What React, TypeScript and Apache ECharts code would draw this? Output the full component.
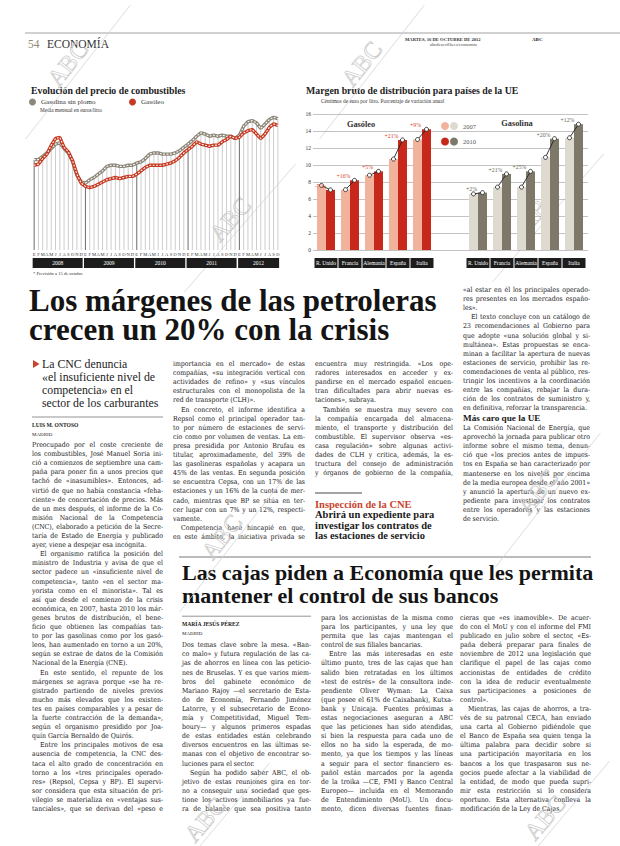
import React, { useEffect, useRef } from 'react';
import * as echarts from 'echarts';

const W = 620;
const H = 846;
const SERIF = '"Liberation Serif", "Times New Roman", serif';
const BODY = '"DejaVu Serif Condensed", "DejaVu Serif", serif';

// ---------- Line chart data (monthly, Jan 2008 - Oct 2012, euros/litro)
const months = ['E', 'F', 'M', 'A', 'M', 'J', 'J', 'A', 'S', 'O', 'N', 'D'];
const years = ['2008', '2009', '2010', '2011', '2012'];
const gasolina = [
  1.11, 1.11, 1.14, 1.17, 1.21, 1.25, 1.26, 1.21, 1.17, 1.09, 0.97, 0.91,
  0.9, 0.93, 0.95, 0.98, 1.01, 1.05, 1.06, 1.06, 1.05, 1.05, 1.06, 1.06,
  1.08, 1.09, 1.12, 1.16, 1.17, 1.17, 1.16, 1.16, 1.16, 1.17, 1.19, 1.22,
  1.25, 1.28, 1.32, 1.35, 1.34, 1.32, 1.33, 1.32, 1.33, 1.32, 1.32, 1.3,
  1.33, 1.41, 1.45, 1.46, 1.44, 1.39, 1.43, 1.47, 1.49, 1.477,
];
const gasoleo = [
  1.06, 1.07, 1.12, 1.16, 1.24, 1.3, 1.31, 1.22, 1.18, 1.1, 0.98, 0.9,
  0.87, 0.86, 0.87, 0.89, 0.91, 0.93, 0.94, 0.95, 0.94, 0.95, 0.96, 0.96,
  0.98, 1.01, 1.04, 1.06, 1.06, 1.06, 1.06, 1.07, 1.08, 1.1, 1.13, 1.17,
  1.2, 1.23, 1.27, 1.25, 1.24, 1.23, 1.24, 1.24, 1.27, 1.29, 1.32, 1.3,
  1.31, 1.35, 1.37, 1.38, 1.34, 1.3, 1.34, 1.4, 1.43, 1.418,
];
// labelled points: [monthIndex, position, dx, dy]
const gasolinaMarks: any[] = [[6, 'bottom', 2, 1], [12, 'top', 4, -1], [24, 'top', 6, -1], [39, 'top', -4, 0], [57, 'top', 5, 0]];
const gasoleoMarks: any[] = [[6, 'top', 7, 1], [13, 'bottom', 1, 1], [39, 'bottom', 1, 0], [57, 'bottom', 6, 0]];

// ---------- Bar chart data (céntimos de euro por litro)
const paises = ['R. Unido', 'Francia', 'Alemania', 'España', 'Italia'];
const gasoleo2007 = [7.6, 7.1, 8.8, 10.7, 13.0];
const gasoleo2010 = [7.07, 8.2, 9.25, 12.95, 14.2];
const gasoleoVar = ['-7%', '+16%', '+5%', '+21%', '+9%'];
const gasolina2007 = [6.6, 7.4, 7.4, 10.9, 13.2];
const gasolina2010 = [6.75, 8.95, 9.25, 13.1, 14.8];
const gasolinaVar = ['+2%', '+21%', '+25%', '+20%', '+12%'];

// ---------- Texts
const sidebar = ['La CNC denuncia', '«el insuficiente nivel de', 'competencia» en el', 'sector de los carburantes'];
const col1 = [
  'Preocupado por el coste creciente de',
  'los combustibles, José Manuel Soria ini-',
  'ció a comienzos de septiembre una cam-',
  'paña para poner fin a unos precios que',
  'tachó de «inasumibles». Entonces, ad-',
  'virtió de que no había constancia «feha-',
  'ciente» de concertación de precios. Más',
  'de un mes después, el informe de la Co-',
  'misión Nacional de la Competencia',
  '(CNC), elaborado a petición de la Secre-',
  'taría de Estado de Energía y publicado',
  'ayer, viene a despejar esa incógnita.',
  '  El organismo ratifica la posición del',
  'ministro de Industria y avisa de que el',
  'sector padece un «insuficiente nivel de',
  'competencia», tanto «en el sector ma-',
  'yorista como en el minorista». Tal es',
  'así que desde el comienzo de la crisis',
  'económica, en 2007, hasta 2010 los már-',
  'genes brutos de distribución, el bene-',
  'ficio que obtienen las compañías tan-',
  'to por las gasolinas como por los gasó-',
  'leos, han aumentado en torno a un 20%,',
  'según se extrae de datos de la Comisión',
  'Nacional de la Energía (CNE).',
  '  En este sentido, el repunte de los',
  'márgenes se agrava porque «se ha re-',
  'gistrado partiendo de niveles previos',
  'mucho más elevados que los existen-',
  'tes en países comparables y a pesar de',
  'la fuerte contracción de la demanda»,',
  'según el organismo presidido por Joa-',
  'quín García Bernaldo de Quirós.',
  '  Entre los principales motivos de esa',
  'ausencia de competencia, la CNC des-',
  'taca el alto grado de concentración en',
  'torno a los «tres principales operado-',
  'res» (Repsol, Cepsa y BP). El supervi-',
  'sor considera que esta situación de pri-',
  'vilegio se materializa en «ventajas sus-',
  'tanciales», que se derivan del «peso e',
];
const col2 = [
  'importancia en el mercado» de estas',
  'compañías, «su integración vertical con',
  'actividades de refino» y «sus vínculos',
  'estructurales con el monopolista de la',
  'red de transporte (CLH)».',
  '  En concreto, el informe identifica a',
  'Repsol como el principal operador tan-',
  'to por número de estaciones de servi-',
  'cio como por volumen de ventas. La em-',
  'presa presidida por Antonio Brufau es',
  'titular, aproximadamente, del 39% de',
  'las gasolineras españolas y acapara un',
  '45% de las ventas. En segunda posición',
  'se encuentra Cepsa, con un 17% de las',
  'estaciones y un 16% de la cuota de mer-',
  'cado, mientras que BP se sitúa en ter-',
  'cer lugar con un 7% y un 12%, respecti-',
  'vamente.',
  '  Competencia hace hincapié en que,',
  'en este ámbito, la iniciativa privada se',
];
const col3 = [
  'encuentra muy restringida. «Los ope-',
  'radores interesados en acceder y ex-',
  'pandirse en el mercado español encuen-',
  'tran dificultades para abrir nuevas es-',
  'taciones», subraya.',
  '  También se muestra muy severo con',
  'la compañía encargada del almacena-',
  'miento, el transporte y distribución del',
  'combustible. El supervisor observa «es-',
  'casa regulación» sobre algunas activi-',
  'dades de CLH y critica, además, la es-',
  'tructura del consejo de administración',
  'y órganos de gobierno de la compañía,',
];
const col3Head = ['Abrirá un expediente para', 'investigar los contratos de', 'las estaciones de servicio'];
const col4a = [
  '«al estar en él los principales operado-',
  'res presentes en los mercados españo-',
  'les».',
  '  El texto concluye con un catálogo de',
  '23 recomendaciones al Gobierno para',
  'que adopte «una solución global y si-',
  'multánea». Estas propuestas se enca-',
  'minan a facilitar la apertura de nuevas',
  'estaciones de servicio, prohibir las re-',
  'comendaciones de venta al público, res-',
  'tringir los incentivos a la coordinación',
  'entre las compañías, rebajar la dura-',
  'ción de los contratos de suministro y,',
  'en definitiva, reforzar la transparencia.',
];
const col4b = [
  'La Comisión Nacional de Energía, que',
  'aprovechó la jornada para publicar otro',
  'informe sobre el mismo tema, denun-',
  'ció que «los precios antes de impues-',
  'tos en España se han caracterizado por',
  'mantenerse en los niveles por encima',
  'de la media europea desde el año 2001»',
  'y anunció la apertura de un nuevo ex-',
  'pediente para investigar los contratos',
  'entre los operadores y las estaciones',
  'de servicio.',
];
const colA = [
  'Dos temas clave sobre la mesa. «Ban-',
  'co malo» y futura regulación de las ca-',
  'jas de ahorros en línea con las peticio-',
  'nes de Bruselas. Y es que varios miem-',
  'bros del gabinete económico de',
  'Mariano Rajoy —el secretario de Esta-',
  'do de Economía, Fernando Jiménez',
  'Latorre, y el subsecretario de Econo-',
  'mía y Competitividad, Miguel Tem-',
  'boury— y algunos primeros espadas',
  'de estas entidades están celebrando',
  'diversos encuentros en las últimas se-',
  'manas con el objetivo de encontrar so-',
  'luciones para el sector.',
  '  Según ha podido saber ABC, el ob-',
  'jetivo de estas reuniones gira en tor-',
  'no a conseguir una sociedad que ges-',
  'tione los activos inmobiliarios ya fue-',
  'ra de balance que sea positiva tanto',
];
const colB = [
  'para los accionistas de la misma como',
  'para los participantes, y una ley que',
  'permita que las cajas mantengan el',
  'control de sus filiales bancarias.',
  '  Entre las más interesadas en este',
  'último punto, tres de las cajas que han',
  'salido bien retratadas en los últimos',
  '«test de estrés» de la consultora inde-',
  'pendiente Oliver Wyman: La Caixa',
  '(que posee el 61% de Caixabank), Kutxa-',
  'bank y Unicaja. Fuentes próximas a',
  'estas negociaciones aseguran a ABC',
  'que las peticiones han sido atendidas,',
  'si bien la respuesta para cada uno de',
  'ellos no ha sido la esperada, de mo-',
  'mento, ya que los tiempos y las líneas',
  'a seguir para el sector financiero es-',
  'pañol están marcados por la agenda',
  'de la troika —CE, FMI y Banco Central',
  'Europeo— incluida en el Memorando',
  'de Entendimiento (MoU). Un docu-',
  'mento, dicen diversas fuentes finan-',
];
const colC = [
  'cieras que «es inamovible». De acuer-',
  'do con el MoU y con el informe del FMI',
  'publicado en julio sobre el sector, «Es-',
  'paña deberá preparar para finales de',
  'noviembre de 2012 una legislación que',
  'clarifique el papel de las cajas como',
  'accionistas de entidades de crédito',
  'con la idea de reducir eventualmente',
  'sus participaciones a posiciones de',
  'control».',
  '  Mientras, las cajas de ahorros, a tra-',
  'vés de su patronal CECA, han enviado',
  'una carta al Gobierno pidiéndole que',
  'el Banco de España sea quien tenga la',
  'última palabra para decidir sobre si',
  'una participación mayoritaria en los',
  'bancos a los que traspasaron sus ne-',
  'gocios puede afectar a la viabilidad de',
  'la entidad, de modo que pueda supri-',
  'mir esta restricción si lo considera',
  'oportuno. Esta alternativa conlleva la',
  'modificación de la Ley de Cajas.',
];

// ---------- helpers
let _ctx: any = null;
function measure(text: string, size: number, family = BODY, weight = 'normal') {
  if (!_ctx) _ctx = document.createElement('canvas').getContext('2d');
  _ctx.font = `${weight} ${size}px ${family}`;
  return _ctx.measureText(text).width;
}

function txt(x: number, y: number, text: string, o: any = {}) {
  const align = o.align || 'left';
  const va = o.va || 'middle';
  return {
    type: 'text',
    silent: true,
    x,
    y,
    style: {
      text,
      fontSize: o.size || 8,
      fontFamily: o.family || SERIF,
      fontWeight: o.weight || 'normal',
      fill: o.color || '#1c1c1c',
      align,
      verticalAlign: va,
      textAlign: align,
      textVerticalAlign: va,
      ...(o.extra || {}),
    },
  };
}

function hline(x1: number, x2: number, y: number, color = '#555', w = 0.8) {
  return { type: 'line', silent: true, shape: { x1, y1: y, x2, y2: y }, style: { stroke: color, lineWidth: w } };
}

const INDENT = 8;
const LH = 9.1;

function neededSize(lines: string[], width: number, base: number) {
  let max = 0;
  lines.forEach((l) => {
    const ind = l.startsWith('  ') ? INDENT : 0;
    max = Math.max(max, measure(l.trim(), base) + ind);
  });
  return max > width ? (base * width) / max : base;
}

function bodyText(x: number, w: number, y0: number, lh: number, lines: string[], size: number, out: any[]) {
  const space = measure(' ', size);
  lines.forEach((raw, li) => {
    const indent = raw.startsWith('  ');
    const text = raw.trim();
    const y = y0 + li * lh;
    const x0 = x + (indent ? INDENT : 0);
    const avail = x + w - x0;
    const next = lines[li + 1];
    const justify = next !== undefined ? !next.startsWith('  ') : !/\.$/.test(text);
    const words = text.split(/\s+/);
    const opt = { size, family: BODY, color: '#161616' };
    if (!justify || words.length < 2) {
      out.push(txt(x0, y, text, opt));
      return;
    }
    const widths = words.map((wd) => measure(wd, size));
    const total = widths.reduce((a, b) => a + b, 0);
    const gap = (avail - total) / (words.length - 1);
    if (gap < space * 0.2 || gap > space * 6) {
      out.push(txt(x0, y, text, opt));
      return;
    }
    let cx = x0;
    words.forEach((wd, k) => {
      out.push(txt(cx, y, wd, opt));
      cx += widths[k] + gap;
    });
  });
}

function watermark(x: number, y: number, deg: number) {
  return {
    type: 'group',
    silent: true,
    x,
    y,
    rotation: (deg * Math.PI) / 180,
    children: [
      { type: 'line', shape: { x1: -85, y1: 0, x2: 85, y2: 0 }, style: { stroke: '#d2d2d2', lineWidth: 0.7 } },
      {
        type: 'text',
        style: {
          text: 'ABC', x: 0, y: -1, fontSize: 24, fontFamily: SERIF, fill: 'rgba(255,255,255,0)',
          stroke: '#c9c9c9', lineWidth: 0.7, align: 'center', verticalAlign: 'bottom', textAlign: 'center', textVerticalAlign: 'bottom',
        },
      },
    ],
  };
}

function fmtVal(v: number, last: boolean) {
  return (last ? v.toFixed(3) + '*' : v.toFixed(2)).replace('.', ',');
}

function lineData(values: number[], marks: any[]) {
  return values.map((v, i) => {
    const m = marks.find((s) => s[0] === i);
    const item: any = { value: [i, v] };
    if (m) {
      item.label = {
        show: true, position: m[1], offset: [m[2], m[3]], distance: 3, fontSize: 6,
        color: '#2a2a2a', fontFamily: SERIF, formatter: fmtVal(v, i === values.length - 1),
      };
    }
    return item;
  });
}

function connector(name: string, axisIdx: number, v07: number[], v10: number[], labels: string[], color: string) {
  return {
    type: 'custom',
    name,
    xAxisIndex: axisIdx,
    yAxisIndex: axisIdx,
    z: 10,
    silent: true,
    data: v07.map((v, i) => [i, v, v10[i]]),
    renderItem: (params: any, api: any) => {
      const i = api.value(0);
      const a = api.coord([i, api.value(1)]);
      const b = api.coord([i, api.value(2)]);
      const off = 4.5;
      const x1 = a[0] - off, y1 = a[1], x2 = b[0] + off, y2 = b[1];
      const cs = { fill: '#fff', stroke: '#222', lineWidth: 0.9 };
      return {
        type: 'group',
        children: [
          { type: 'line', shape: { x1, y1, x2, y2 }, style: { stroke: '#222', lineWidth: 0.9 } },
          { type: 'circle', shape: { cx: x1, cy: y1, r: 2 }, style: cs },
          { type: 'circle', shape: { cx: x2, cy: y2, r: 2 }, style: cs },
          {
            type: 'text',
            style: {
              text: labels[params.dataIndex], x: x2 - 11, y: y2 - 4, fontSize: 5.8, fontFamily: SERIF,
              fill: color, align: 'center', verticalAlign: 'middle', textAlign: 'center', textVerticalAlign: 'middle',
            },
          },
        ],
      };
    },
  };
}

function buildOption() {
  const els: any[] = [];
  // header
  els.push(hline(25, 620, 33, '#8a8a8a', 0.8));
  els.push(txt(28, 44, '54', { size: 11.5, color: '#8e8a7a' }));
  els.push(txt(47, 44, 'ECONOMÍA', { size: 11.5, color: '#333' }));
  els.push(txt(405, 39, 'MARTES, 16 DE OCTUBRE DE 2012', { size: 4.6, color: '#333', weight: 'bold' }));
  els.push(txt(532, 39, 'ABC', { size: 5, color: '#222', weight: 'bold' }));
  els.push(txt(430, 44, 'abcdesevilla.es/economia', { size: 4.6, color: '#444' }));

  // line chart texts
  els.push(txt(31, 90, 'Evolución del precio de combustibles', { size: 9.8, weight: 'bold', color: '#222' }));
  els.push(txt(40, 110, 'Media mensual en euros/litro', { size: 5.3, color: '#333' }));
  els.push(txt(33, 273, '* Previsión a 15 de octubre', { size: 4.6, color: '#333' }));

  // bar chart texts
  els.push(txt(306, 90, 'Margen bruto de distribución para países de la UE', { size: 9.8, weight: 'bold', color: '#222' }));
  els.push(txt(321, 101, 'Céntimos de euro por litro. Porcentaje de variación anual', { size: 5.4, color: '#333' }));
  els.push(txt(361, 124, 'Gasóleo', { size: 8.3, weight: 'bold', align: 'center', color: '#333' }));
  els.push(txt(517, 123, 'Gasolina', { size: 8.3, weight: 'bold', align: 'center', color: '#333' }));

  // main headline (one text block, two lines)
  els.push(txt(29, 286, 'Los márgenes de las petroleras\ncrecen un 20% con la crisis', {
    size: 31, weight: 'bold', color: '#141414', va: 'top', extra: { lineHeight: 29 },
  }));

  // sidebar
  els.push({ type: 'polygon', silent: true, shape: { points: [[33, 360], [39.5, 364], [33, 368]] }, style: { fill: '#c8442c' } });
  els.push(txt(42, 357.5, sidebar.join('\n'), { size: 11.8, color: '#222', va: 'top', extra: { lineHeight: 13 } }));
  els.push(hline(32, 163, 417, '#666', 0.7));
  els.push(txt(32, 425, 'LUIS M. ONTOSO', { size: 5.6, weight: 'bold' }));
  els.push(txt(32, 434, 'MADRID', { size: 5 }));

  // columns geometry (shared baseline grid)
  const bottom = 445 + (col1.length - 1) * LH;
  const cols = [
    { x: 32, w: 131, y: 445, lines: col1 },
    { x: 173, w: 132, y: 364, lines: col2 },
    { x: 315, w: 138, y: 364, lines: col3 },
    { x: 463, w: 127, y: 290, lines: col4a },
    { x: 463, w: 127, y: 428, lines: col4b },
    { x: 182, w: 129, y: bottom - (colA.length - 1) * LH, lines: colA },
    { x: 321, w: 132, y: bottom - (colB.length - 1) * LH, lines: colB },
    { x: 460, w: 131, y: bottom - (colC.length - 1) * LH, lines: colC },
  ];
  let size = 8.4;
  cols.forEach((c) => { size = Math.min(size, neededSize(c.lines, c.w, 8.4)); });
  cols.forEach((c) => bodyText(c.x, c.w, c.y, LH, c.lines, size, els));

  // col 3 inset
  els.push(hline(315, 362, 493, '#333', 0.9));
  els.push(txt(315, 504, 'Inspección de la CNE', { size: 10.5, weight: 'bold', color: '#c8442c' }));
  els.push(txt(315, 509.75, col3Head.join('\n'), { size: 10.5, weight: 'bold', color: '#1a1a1a', va: 'top', extra: { lineHeight: 10.2 } }));

  // col 4 subhead
  els.push(txt(463, 417.5, 'Más caro que la UE', { size: 9.2, weight: 'bold', color: '#1a1a1a' }));

  // lower story
  els.push(hline(179, 591, 557, '#555', 0.8));
  els.push(txt(182, 561, 'Las cajas piden a Economía que les permita\nmantener el control de sus bancos', {
    size: 22, weight: 'bold', align: 'left', color: '#141414', va: 'top', extra: { lineHeight: 23 },
  }));
  const yA = bottom - (colA.length - 1) * LH;
  els.push(hline(182, 311, yA - 29, '#666', 0.7));
  els.push(txt(182, yA - 21, 'MARÍA JESÚS PÉREZ', { size: 5.6, weight: 'bold' }));
  els.push(txt(182, yA - 12, 'MADRID', { size: 5 }));

  // watermarks
  [[78, 72, 52], [240, 228, 49], [548, 218, 49], [372, 72, 52], [232, 545, 52], [548, 500, 52], [215, 828, 50], [555, 826, 50]].forEach(
    ([x, y, d]) => els.push(watermark(x, y, d))
  );

  const axisOff = { axisLine: { show: false }, axisTick: { show: false }, splitLine: { show: false } };
  const catLabel = {
    backgroundColor: '#1d1d1d', color: '#fff', width: 23, height: 10, lineHeight: 10, fontSize: 5.5,
    align: 'center', margin: 8, fontFamily: SERIF, interval: 0,
  };
  const monthIdx = gasolina.map((_, i) => i);
  const yearCenters = years.map((_, k) => (k < years.length - 1 ? k * 12 + 5.5 : k * 12 + (gasolina.length - k * 12) / 2 - 0.5));

  return {
    animation: false,
    backgroundColor: '#fff',
    textStyle: { fontFamily: SERIF },
    grid: [
      { left: 32, top: 105, width: 248, height: 145 },
      { left: 314, top: 114, width: 120, height: 136 },
      { left: 466, top: 114, width: 120, height: 136 },
      { left: 313, top: 114, width: 275, height: 136 },
      { left: 32, top: 249, width: 248, height: 1 },
    ],
    legend: [
      { data: ['Gasolina sin plomo'], left: 29, top: 98.5, padding: 0, icon: 'circle', itemWidth: 7, itemHeight: 7, textStyle: { fontSize: 7, color: '#333', fontFamily: SERIF }, selectedMode: false },
      { data: ['Gasóleo'], left: 129, top: 98.5, padding: 0, icon: 'circle', itemWidth: 7, itemHeight: 7, textStyle: { fontSize: 7, color: '#333', fontFamily: SERIF }, selectedMode: false },
      { data: ['Gasóleo 2007'], left: 441, top: 122, padding: 0, icon: 'circle', itemWidth: 8, itemHeight: 8, formatter: () => '', selectedMode: false },
      { data: ['Gasolina 2007'], left: 450, top: 122, padding: 0, icon: 'circle', itemWidth: 8, itemHeight: 8, formatter: () => '2007', textStyle: { fontSize: 6.5, color: '#555', fontFamily: SERIF }, selectedMode: false },
      { data: ['Gasóleo 2010'], left: 441, top: 137.5, padding: 0, icon: 'circle', itemWidth: 8, itemHeight: 8, formatter: () => '', selectedMode: false },
      { data: ['Gasolina 2010'], left: 450, top: 137.5, padding: 0, icon: 'circle', itemWidth: 8, itemHeight: 8, formatter: () => '2010', textStyle: { fontSize: 6.5, color: '#555', fontFamily: SERIF }, selectedMode: false },
    ],
    xAxis: [
      {
        gridIndex: 0, type: 'value', position: 'bottom', min: -0.5, max: gasolina.length - 0.5, ...axisOff,
        axisLabel: { customValues: monthIdx, formatter: (v: number) => months[Math.round(v) % 12], fontSize: 4.6, margin: 2, color: '#333' },
      },
      { gridIndex: 1, type: 'category', data: paises, ...axisOff, axisLabel: catLabel },
      { gridIndex: 2, type: 'category', data: paises, ...axisOff, axisLabel: catLabel },
      { gridIndex: 3, type: 'value', min: 0, max: 1, show: false },
      {
        gridIndex: 4, type: 'value', position: 'bottom', min: -0.5, max: gasolina.length - 0.5, ...axisOff,
        axisLabel: {
          customValues: yearCenters,
          margin: 8,
          formatter: (v: number) => {
            const k = Math.floor((v + 0.5) / 12);
            return k === years.length - 1 ? `{b|${years[k]}}` : `{a|${years[k]}}`;
          },
          rich: {
            a: { width: 50, height: 10, lineHeight: 10, backgroundColor: '#1d1d1d', color: '#fff', align: 'center', fontSize: 5.5 },
            b: { width: 41, height: 10, lineHeight: 10, backgroundColor: '#1d1d1d', color: '#fff', align: 'center', fontSize: 5.5 },
          },
        },
      },
    ],
    yAxis: [
      { gridIndex: 0, type: 'value', min: 0.3, max: 1.6, show: false },
      { gridIndex: 1, type: 'value', min: 0, max: 16, interval: 2, show: false },
      { gridIndex: 2, type: 'value', min: 0, max: 16, interval: 2, show: false },
      {
        gridIndex: 3, type: 'value', min: 0, max: 16, interval: 2,
        axisLine: { show: false }, axisTick: { show: false },
        splitLine: { show: true, lineStyle: { color: '#9a9a9a', width: 0.6 } },
        axisLabel: { fontSize: 5.5, margin: 2, color: '#333' },
      },
      { gridIndex: 4, type: 'value', min: 0, max: 1, show: false },
    ],
    series: [
      {
        type: 'bar', name: 'lineas', xAxisIndex: 0, yAxisIndex: 0, barWidth: 1, silent: true, clip: true,
        data: gasolina.map((v, i) => ({ value: [i, v], itemStyle: { color: i % 12 === 0 ? '#6e6e6e' : '#cdcdcd' } })),
      },
      {
        type: 'line', name: 'Gasolina sin plomo', xAxisIndex: 0, yAxisIndex: 0, color: '#8c8778', symbol: 'none',
        lineStyle: { width: 3.4, color: '#8c8778' }, data: lineData(gasolina, gasolinaMarks), z: 3,
      },
      {
        type: 'line', name: 'gasolina-puntos', xAxisIndex: 0, yAxisIndex: 0, symbol: 'none', silent: true, z: 4,
        lineStyle: { width: 1.1, color: '#fff', type: [1, 2.4], cap: 'round' }, data: gasolina.map((v, i) => [i, v]),
      },
      {
        type: 'line', name: 'Gasóleo', xAxisIndex: 0, yAxisIndex: 0, color: '#c63a22', symbol: 'none',
        lineStyle: { width: 3.4, color: '#c63a22' }, data: lineData(gasoleo, gasoleoMarks), z: 5,
      },
      {
        type: 'line', name: 'gasoleo-puntos', xAxisIndex: 0, yAxisIndex: 0, symbol: 'none', silent: true, z: 6,
        lineStyle: { width: 1.1, color: '#fff', type: [1, 2.4], cap: 'round' }, data: gasoleo.map((v, i) => [i, v]),
      },
      { type: 'bar', name: 'Gasóleo 2007', xAxisIndex: 1, yAxisIndex: 1, barWidth: 9, barGap: '0%', color: '#f2b39c', data: gasoleo2007 },
      { type: 'bar', name: 'Gasóleo 2010', xAxisIndex: 1, yAxisIndex: 1, barWidth: 9, barGap: '0%', color: '#c8281c', data: gasoleo2010 },
      { type: 'bar', name: 'Gasolina 2007', xAxisIndex: 2, yAxisIndex: 2, barWidth: 9, barGap: '0%', color: '#dedacf', data: gasolina2007 },
      { type: 'bar', name: 'Gasolina 2010', xAxisIndex: 2, yAxisIndex: 2, barWidth: 9, barGap: '0%', color: '#7d7868', data: gasolina2010 },
      connector('variación gasóleo', 1, gasoleo2007, gasoleo2010, gasoleoVar, '#d2452d'),
      connector('variación gasolina', 2, gasolina2007, gasolina2010, gasolinaVar, '#6a6658'),
    ],
    graphic: { elements: els },
  };
}

export default function App() {
  const ref = useRef<HTMLDivElement>(null);
  useEffect(() => {
    const chart = echarts.init(ref.current as HTMLDivElement, null, { renderer: 'svg', width: W, height: H });
    chart.setOption(buildOption() as any);
    return () => chart.dispose();
  }, []);
  return <div ref={ref} style={{ position: 'absolute', left: 0, top: 0, width: W, height: H, background: '#fff' }} />;
}
